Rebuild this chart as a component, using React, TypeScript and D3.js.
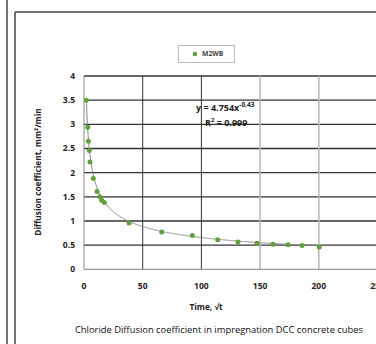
import React from "react";
import * as d3 from "d3";

const timeValues = [2, 3.2, 3.7, 4.5, 5.1, 7.9, 11.1, 13.4, 15.1, 17.3, 38.3, 66.2, 92.3, 113.9, 131.2, 147.4, 161, 173.8, 185.7, 200.4];
const diffValues = [3.5, 2.94, 2.65, 2.46, 2.22, 1.88, 1.61, 1.5, 1.43, 1.38, 0.96, 0.77, 0.7, 0.61, 0.565, 0.54, 0.52, 0.51, 0.49, 0.46];
const yTicks = [0, 0.5, 1, 1.5, 2, 2.5, 3, 3.5, 4];
const xTicks = [0, 50, 100, 150, 200, 250];
const fitA = 4.754;
const fitB = -0.43;
const seriesName = "M2WB";

const W = 376;
const H = 344;
const FONT = "'Open Sans', sans-serif";
const GREEN = "#62a03f";

export default function App() {
  const x = d3.scaleLinear().domain([0, 250]).range([84, 377.5]);
  const y = d3.scaleLinear().domain([0, 4]).range([269.3, 76]);

  const fitPts: [number, number][] = d3.range(2, 200.5, 0.5).map((t) => [t, fitA * Math.pow(t, fitB)]);
  const line = d3
    .line<[number, number]>()
    .x((d) => x(d[0]))
    .y((d) => y(d[1]));

  return (
    <svg
      width={W}
      height={H}
      style={{ position: "absolute", left: 0, top: 0, background: "#fff" }}
      fontFamily={FONT}
    >
      <rect x={0} y={0} width={W} height={H} fill="#fff" />
      {/* frames */}
      <line x1={7} y1={0} x2={7} y2={H} stroke="#444" strokeWidth={1.5} />
      <line x1={15} y1={12} x2={15} y2={H} stroke="#444" strokeWidth={1.5} />
      <line x1={15} y1={12} x2={W} y2={12} stroke="#444" strokeWidth={1.5} />

      {/* horizontal gridlines */}
      {yTicks.slice(1).map((t) => (
        <line key={"h" + t} x1={x(0)} x2={W} y1={y(t)} y2={y(t)} stroke="#333" strokeWidth={1.3} />
      ))}
      {/* vertical gridlines */}
      {xTicks.slice(1).map((t) => (
        <line
          key={"v" + t}
          x1={x(t)}
          x2={x(t)}
          y1={y(4)}
          y2={y(0)}
          stroke={t <= 100 ? "#333" : "#bbb"}
          strokeWidth={t <= 100 ? 1 : 1.6}
        />
      ))}
      {/* axes */}
      <line x1={x(0)} x2={x(0)} y1={y(4)} y2={y(0)} stroke="#999" strokeWidth={1.2} />
      <line x1={x(0)} x2={W} y1={y(0)} y2={y(0)} stroke="#999" strokeWidth={1.2} />

      {/* y tick labels */}
      {yTicks.map((t) => (
        <text
          key={"yl" + t}
          x={75}
          y={y(t)}
          dy="0.35em"
          textAnchor="end"
          fontSize={8.5}
          fontWeight="bold"
          fill="#222"
        >
          {t}
        </text>
      ))}
      {/* x tick labels */}
      {xTicks.map((t) => (
        <text
          key={"xl" + t}
          x={x(t)}
          y={286}
          dy="0.35em"
          textAnchor="middle"
          fontSize={8.5}
          fontWeight="bold"
          fill="#222"
        >
          {t}
        </text>
      ))}

      {/* trendline */}
      <path d={line(fitPts) || ""} fill="none" stroke="#888" strokeWidth={1} />

      {/* points */}
      {timeValues.map((t, i) => (
        <circle key={"p" + i} cx={x(t)} cy={y(diffValues[i])} r={2.5} fill={GREEN} />
      ))}

      {/* equation */}
      <text x={196} y={111} fontSize={9} fontWeight="bold" fill="#222">
        y = 4.754x
        <tspan dy={-4} fontSize={6.5}>-0.43</tspan>
      </text>
      <text x={205} y={126} fontSize={9} fontWeight="bold" fill="#222">
        R
        <tspan dy={-4} fontSize={6}>2</tspan>
        <tspan dy={4}> = 0.999</tspan>
      </text>

      {/* legend */}
      <rect x={178.5} y={45.5} width={56} height={17} fill="#fff" stroke="#bbb" strokeWidth={1} />
      <circle cx={195} cy={54} r={2.3} fill={GREEN} />
      <text x={202} y={54} dy="0.35em" fontSize={6.8} fontWeight="bold" fill="#444">
        {seriesName}
      </text>

      {/* axis titles */}
      <text
        transform={`translate(38,172) rotate(-90)`}
        textAnchor="middle"
        dy="0.35em"
        fontSize={8.3}
        fontWeight="bold"
        fill="#222"
      >
        Diffusion coefficient, mm²/min
      </text>
      <text x={206} y={307} dy="0.35em" textAnchor="middle" fontSize={8.3} fontWeight="bold" fill="#222">
        Time, √t
      </text>
      <text x={219} y={330} dy="0.35em" textAnchor="middle" fontSize={9.4} fill="#111">
        Chloride Diffusion coefficient in impregnation DCC concrete cubes
      </text>
    </svg>
  );
}
